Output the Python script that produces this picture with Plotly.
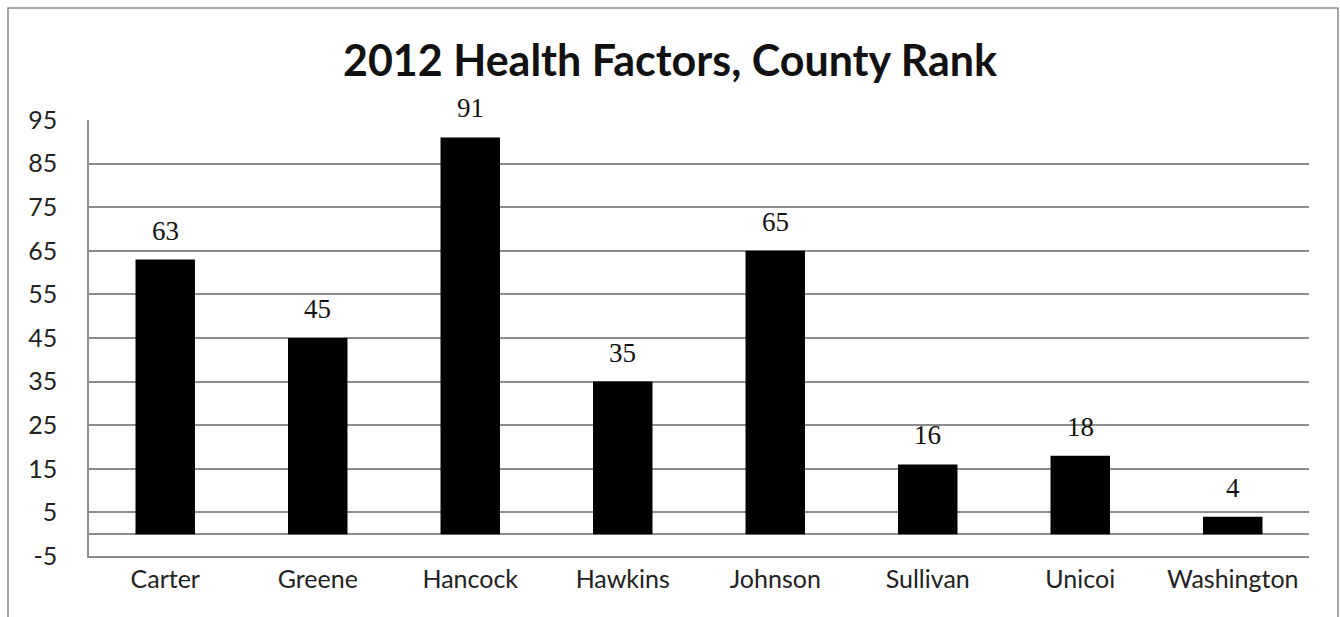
import plotly.graph_objects as go

counties = ["Carter", "Greene", "Hancock", "Hawkins", "Johnson", "Sullivan", "Unicoi", "Washington"]
ranks = [63, 45, 91, 35, 65, 16, 18, 4]
y_ticks = [-5, 5, 15, 25, 35, 45, 55, 65, 75, 85, 95]

W, H = 1340, 617
L, R, T, B = 89, 31, 120, 61
pw, ph = W - L - R, H - T - B

fig = go.Figure()
fig.add_trace(go.Bar(
    x=counties, y=ranks,
    marker=dict(color="black", line=dict(width=0)),
    width=0.39,
    hoverinfo="x+y",
))

for c, v in zip(counties, ranks):
    fig.add_annotation(
        x=c, y=v, text=str(v), showarrow=False,
        yanchor="bottom", yshift=12,
        font=dict(family="Liberation Serif", size=27, color="#111"),
    )

# outer chart border
fig.add_shape(
    type="rect", xref="paper", yref="paper",
    x0=(8 - L) / pw, x1=(1338 - L) / pw,
    y0=(H - B - 640) / ph, y1=(H - B - 8) / ph,
    line=dict(color="#8a8a8a", width=1.5), fillcolor="rgba(0,0,0,0)", layer="below",
)

fig.update_layout(
    width=W, height=H,
    margin=dict(l=L, r=R, t=T, b=B),
    paper_bgcolor="white", plot_bgcolor="white",
    showlegend=False,
    title=dict(
        text="<b>2012 Health Factors, County Rank</b>",
        x=0.5, xanchor="center", y=1 - 61 / H, yanchor="middle",
        font=dict(family="Lato", size=43, color="#111"),
    ),
    font=dict(family="Lato", color="#222"),
)
fig.update_xaxes(
    showgrid=False, showline=True, linecolor="#8c8c8c", linewidth=2, ticks="",
    tickfont=dict(family="Lato", size=25, color="#222"),
    ticklabelstandoff=0,
)
fig.update_yaxes(
    range=[-5, 95], tickvals=y_ticks, ticktext=[str(t) for t in y_ticks],
    showgrid=True, gridcolor="#8c8c8c", gridwidth=1.5,
    zeroline=True, zerolinecolor="#8c8c8c", zerolinewidth=1.5,
    showline=True, linecolor="#8c8c8c", linewidth=1.5,
    ticks="", tickfont=dict(family="Lato", size=25, color="#222"),
    ticklabelstandoff=25,
)

fig.write_html("out.html")
